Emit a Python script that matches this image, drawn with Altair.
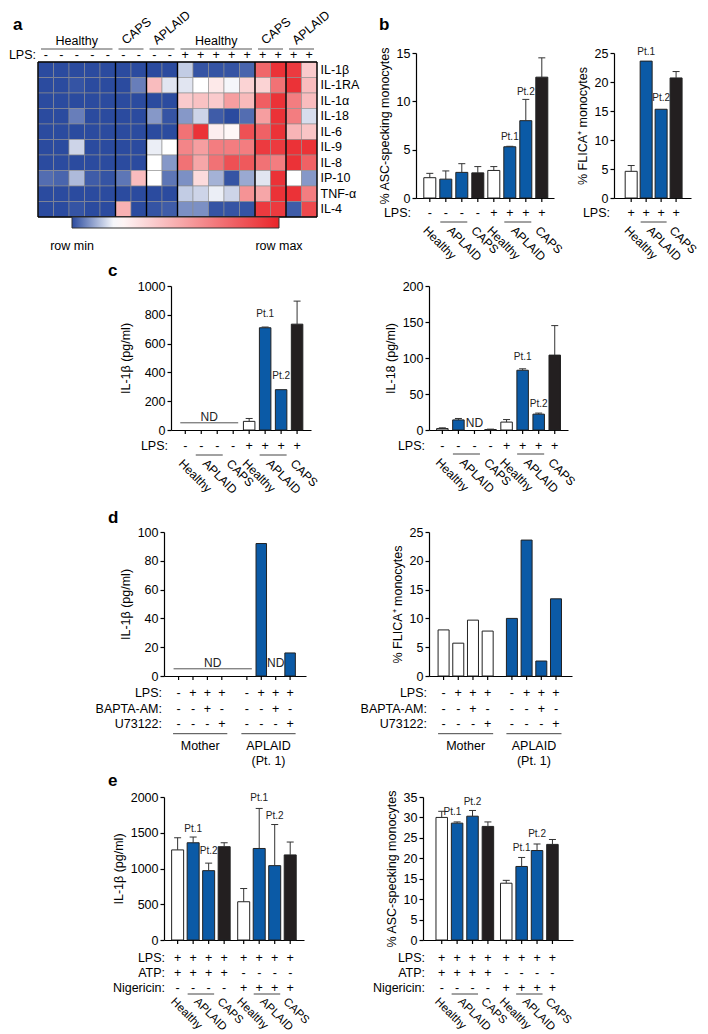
import altair as alt
import pandas as pd

FONT = "Liberation Sans"
FS = 12.5
BLUE = "#0b5aa6"
DARK = "#231f20"
HM_BLUE = "#2b4b9f"
HM_RED = "#ea2429"
FILLS = {"Healthy": "#ffffff", "Mother": "#ffffff", "APLAID": BLUE, "CAPS": DARK}

# ---------------- a: heatmap ----------------
hm_rows = ["IL-1β", "IL-1RA", "IL-1α", "IL-18", "IL-6", "IL-9", "IL-8", "IP-10", "TNF-α", "IL-4"]
hm_groups = ["Healthy", "CAPS", "APLAID", "Healthy", "CAPS", "APLAID"]
hm_group_sizes = [5, 2, 2, 5, 2, 2]
hm_group_lps = ["-", "-", "-", "+", "+", "+"]
hm_mid = 0.21  # position of white on the row-normalised scale
hm_values = [
    [0, 0, 0, 0, 0, 0, 0, 0, 0, 0.15, 0.01, 0.01, 0.01, 0.03, 0.76, 0.95, 0.92, 0.40],
    [0, 0, 0.01, 0, 0, 0, 0.06, 0.45, 0.18, 0.18, 0.21, 0.29, 0.20, 0.37, 0.37, 0.72, 0.95, 0.45],
    [0, 0, 0, 0, 0, 0, 0, 0, 0, 0.40, 0.43, 0.40, 0.56, 0.46, 0.79, 0.95, 0.68, 0.45],
    [0, 0, 0.06, 0, 0, 0, 0, 0.09, 0.01, 0.09, 0.16, 0.02, 0, 0.04, 0.56, 0.95, 0.68, 0.17],
    [0, 0, 0, 0, 0, 0, 0, 0, 0, 0.72, 0.95, 0.27, 0.24, 0.84, 0.78, 0.95, 0.48, 0.42],
    [0, 0, 0.16, 0, 0, 0, 0, 0.19, 0.21, 0.65, 0.56, 0.68, 0.68, 0.68, 0.92, 0.92, 0.95, 0.95],
    [0, 0, 0, 0, 0, 0, 0, 0.21, 0.09, 0.72, 0.53, 0.72, 0.84, 0.81, 0.72, 0.68, 0.95, 0.78],
    [0.04, 0.03, 0.13, 0.02, 0.01, 0.05, 0.45, 0.21, 0.05, 0.08, 0.34, 0.12, 0.01, 0.11, 0.18, 0.95, 0.21, 0.09],
    [0, 0, 0, 0, 0, 0, 0, 0, 0, 0.15, 0.16, 0.19, 0.16, 0.60, 0.53, 0.95, 0.95, 0.68],
    [0, 0, 0.01, 0, 0, 0.49, 0, 0.01, 0.02, 0.08, 0.08, 0.01, 0.01, 0.01, 0.92, 0.92, 0.02, 0.87],
]
hm_legend_labels = ["row min", "row max"]

# ---------------- b ----------------
b_kind = ["Healthy", "APLAID", "APLAID", "CAPS", "Healthy", "APLAID", "APLAID", "CAPS"]
b_lps = ["-", "-", "-", "-", "+", "+", "+", "+"]
b1_vals = [2.1, 1.95, 2.65, 2.6, 2.85, 5.3, 8.0, 12.5]
b1_errs = [2.55, 2.8, 3.55, 3.25, 3.25, 5.35, 10.2, 14.5]
b1_ticks = [0, 5, 10, 15]
b1_pts = [("Pt.1", 5, 6.3), ("Pt.2", 6, 11.0)]

b2_kind = ["Healthy", "APLAID", "APLAID", "CAPS"]
b2_lps = ["+", "+", "+", "+"]
b2_vals = [4.6, 23.6, 15.3, 20.7]
b2_errs = [5.6, None, None, 21.8]
b2_ticks = [0, 5, 10, 15, 20, 25]
b2_pts = [("Pt.1", 1, 25.2), ("Pt.2", 2, 17.2)]

# ---------------- c ----------------
c1_vals = [None, None, None, None, 60, 710, 280, 735]
c1_errs = [None, None, None, None, 80, 715, None, 895]
c1_ticks = [0, 200, 400, 600, 800, 1000]
c1_pts = [("Pt.1", 5, 805), ("Pt.2", 6, 373)]
c2_vals = [2, 14, None, 0.6, 11, 83, 22, 104]
c2_errs = [3, 16, None, 1.2, 14.5, 85, 23.5, 145]
c2_ticks = [0, 50, 100, 150, 200]
c2_pts = [("Pt.1", 5, 101.7), ("Pt.2", 6, 36.3)]

# ---------------- d ----------------
d_kind = ["Mother"] * 4 + ["APLAID"] * 4
d_group_text = ["Mother", "APLAID\n(Pt. 1)"]
d_lps = ["-", "+", "+", "+", "-", "+", "+", "+"]
d_bapta = ["-", "-", "+", "-", "-", "-", "+", "-"]
d_u73 = ["-", "-", "-", "+", "-", "-", "-", "+"]
d1_vals = [None, None, None, None, None, 92, None, 16]
d1_ticks = [0, 20, 40, 60, 80, 100]
d2_vals = [8.0, 5.7, 9.7, 7.8, 10.0, 23.6, 2.6, 13.4]
d2_ticks = [0, 5, 10, 15, 20, 25]

# ---------------- e ----------------
e_kind = b_kind
e_lps = ["+"] * 8
e_atp = ["+"] * 4 + ["-"] * 4
e_nig = ["-"] * 4 + ["+"] * 4
e1_vals = [1260, 1360, 970, 1305, 535, 1280, 1040, 1190]
e1_errs = [1430, 1440, 1075, 1360, 720, 1840, 1615, 1370]
e1_ticks = [0, 500, 1000, 1500, 2000]
e1_pts = [("Pt.1", 1, 1557), ("Pt.2", 2, 1245), ("Pt.1", 5, 1990), ("Pt.2", 6, 1734)]
e2_vals = [30.0, 28.6, 30.3, 27.8, 13.9, 18.0, 21.9, 23.4]
e2_errs = [31.5, 28.9, 31.7, 28.9, 14.6, 20.2, 23.5, 24.6]
e2_ticks = [0, 5, 10, 15, 20, 25, 30, 35]
e2_pts = [("Pt.1", 1, 31.3), ("Pt.2", 2, 33.8), ("Pt.1", 5, 22.5), ("Pt.2", 6, 25.9)]


def spacer(w=1, h=1):
    return alt.Chart(pd.DataFrame({"z": [0]})).mark_point(opacity=0, size=1).properties(width=w, height=h)


def text_at(t, x, y, **mk):
    return alt.Chart(pd.DataFrame({"t": [t]})).mark_text(**mk).encode(
        x=alt.value(x), y=alt.value(y), text="t:N")


def letter_layer(ch, x, y):
    return text_at(ch, x, y, fontSize=17, fontWeight="bold", align="left", baseline="alphabetic")


def runs(kinds):
    out, start = [], 0
    for i in range(1, len(kinds) + 1):
        if i == len(kinds) or kinds[i] != kinds[start]:
            out.append((kinds[start], start, i - 1))
            start = i
    return out


# ---------------- heatmap chart ----------------
HW, HH = 279, 155
GRAD_X, GRAD_LEN = 34, 207
n_cols = sum(hm_group_sizes)
col_lps = [s for s, k in zip(hm_group_lps, hm_group_sizes) for _ in range(k)]
g_start = [sum(hm_group_sizes[:i]) for i in range(len(hm_group_sizes))]
g_end = [s + k - 1 for s, k in zip(g_start, hm_group_sizes)]
cells = pd.DataFrame([{"row": r, "col": c, "v": hm_values[i][c]}
                      for i, r in enumerate(hm_rows) for c in range(n_cols)])
xsc = alt.Scale(type="band", paddingInner=0, paddingOuter=0)
ysc = alt.Scale(type="band", paddingInner=0, paddingOuter=0)
hm_yax = alt.Axis(orient="right", ticks=False, domain=False, labelPadding=3,
                  labelFontSize=FS, labelColor="black", title=None)


def HY(**kw):
    return alt.Y("row:N", sort=hm_rows, scale=ysc, axis=hm_yax, **kw)


def HX(f="col:O", **kw):
    return alt.X(f, scale=xsc, axis=None, **kw)


heat = alt.Chart(cells).mark_rect(stroke="#8f8f8f", strokeWidth=0.6).encode(
    x=HX(), y=HY(),
    color=alt.Color("v:Q", scale=alt.Scale(domain=[0, hm_mid, 1], range=[HM_BLUE, "#ffffff", HM_RED],
                                           interpolate="rgb"),
                    legend=alt.Legend(orient="none", legendX=GRAD_X, legendY=HH + 9, direction="horizontal",
                                      gradientLength=GRAD_LEN, gradientThickness=11, title=None,
                                      values=[0, 1], labelOpacity=0, labelFontSize=1,
                                      gradientStrokeColor="#333", gradientStrokeWidth=1)),
)
leg_lo = text_at(hm_legend_labels[0], GRAD_X, HH + 23, fontSize=FS, baseline="top", align="center")
leg_hi = text_at(hm_legend_labels[1], GRAD_X + GRAD_LEN, HH + 23, fontSize=FS, baseline="top", align="center")
sep_l = alt.Chart(pd.DataFrame({"col": g_start})).mark_rule(color="black", strokeWidth=1.4).encode(
    x=HX(bandPosition=0))
sep_r = alt.Chart(pd.DataFrame({"col": [n_cols - 1]})).mark_rule(color="black", strokeWidth=1.4).encode(
    x=HX(bandPosition=1))
sep_t = alt.Chart(pd.DataFrame({"row": [hm_rows[0]]})).mark_rule(color="black", strokeWidth=1.4).encode(
    y=HY(bandPosition=0))
sep_b = alt.Chart(pd.DataFrame({"row": [hm_rows[-1]]})).mark_rule(color="black", strokeWidth=1.4).encode(
    y=HY(bandPosition=1))
lps_txt = alt.Chart(pd.DataFrame({"col": list(range(n_cols)), "s": col_lps})).mark_text(
    fontSize=FS, baseline="middle").encode(x=HX(), y=alt.value(-7), text="s:N")
lps_lab = text_at("LPS:", -2, -7, fontSize=FS, align="right", baseline="middle")
gl_h, gl_r = [], []
for g, st, k in zip(hm_groups, g_start, hm_group_sizes):
    if k % 2:
        gl_h.append({"col": st + k // 2, "t": g})
    else:
        gl_r.append({"col": st + k // 2 - 1, "t": g})
gh = alt.Chart(pd.DataFrame(gl_h)).mark_text(fontSize=FS, baseline="alphabetic").encode(
    x=HX(), y=alt.value(-17), text="t:N")
gr = alt.Chart(pd.DataFrame(gl_r)).mark_text(fontSize=FS, baseline="alphabetic", align="left",
                                             angle=320, xOffset=-5).encode(
    x=HX(bandPosition=1), y=alt.value(-17), text="t:N")
gul = alt.Chart(pd.DataFrame({"s": g_start, "e": g_end})).mark_rule(
    color="#555", strokeWidth=1, xOffset=3, x2Offset=-3).encode(
    x=HX("s:O", bandPosition=0), x2=alt.X2("e", bandPosition=1), y=alt.value(-13))

heatmap = alt.layer(heat, sep_l, sep_r, sep_t, sep_b, lps_txt, lps_lab, gh, gr, gul, leg_lo, leg_hi,
                    letter_layer("a", -25, -32)).properties(width=HW, height=HH)


# ---------------- bar panels ----------------
def bar_panel(vals, errs, kinds, W, H, first, step, gap, bar, ymax, yticks, ytitle,
              rows, row_dy, row_lx, line_dy, cat_dy, groups_text=None, cat_fs=12,
              pts=(), pt_shift=None, nd_text=(), nd_lines=(), letter=None):
    n = len(vals)
    pos = [i + (gap if i >= n // 2 else 0) for i in range(n)]
    lo = -first / step
    xs = alt.Scale(domain=[lo, lo + W / step], nice=False, zero=False)
    ys = alt.Scale(domain=[0, ymax], nice=False, zero=True)
    xax = alt.Axis(labels=False, ticks=False, grid=False, title=None,
                   domainColor="black", domainWidth=1.2)
    yax = alt.Axis(values=yticks, format="d", title=ytitle, grid=False, domainColor="black",
                   domainWidth=1.2, tickColor="black", tickWidth=1.2, tickSize=4, labelFontSize=FS,
                   titleFontSize=FS, titleFontWeight="normal", labelColor="black", titleColor="black",
                   labelPadding=2, titlePadding=5)

    def X(f="p"):
        return alt.X(f, type="quantitative", scale=xs, axis=xax)

    def Y(f="y"):
        return alt.Y(f, type="quantitative", scale=ys, axis=yax)

    layers = []
    dfb = pd.DataFrame([{"p": pos[i], "y": v, "fill": FILLS[kinds[i]]}
                        for i, v in enumerate(vals) if v is not None])
    layers.append(alt.Chart(dfb).mark_bar(size=bar, orient="vertical", stroke="#222", strokeWidth=1).encode(
        x=X(), y=Y(), fill=alt.Fill("fill:N", scale=None)))
    if errs is not None:
        dfe = pd.DataFrame([{"p": pos[i], "y": vals[i], "e": e} for i, e in enumerate(errs) if e is not None])
        layers.append(alt.Chart(dfe).mark_rule(color="#333", strokeWidth=1).encode(
            x=X(), y=Y(), y2=alt.Y2("e")))
        layers.append(alt.Chart(dfe).mark_rule(color="#333", strokeWidth=1, xOffset=-3.5, x2Offset=3.5).encode(
            x=X(), x2=alt.X2("p"), y=Y("e")))
    layers.append(alt.Chart(pd.DataFrame({"p": pos})).mark_rule(color="black", strokeWidth=1.2).encode(
        x=X(), y=alt.value(H), y2=alt.value(H + 4)))
    for (label, syms), dy in zip(rows, row_dy):
        layers.append(alt.Chart(pd.DataFrame({"p": pos, "s": syms})).mark_text(
            fontSize=FS, baseline="middle").encode(x=X(), y=alt.value(H + dy), text="s:N"))
        layers.append(text_at(label, row_lx, H + dy, fontSize=FS, baseline="middle", align="right"))
    rr = runs(kinds)
    ul = [{"p": pos[s], "b": pos[e]} for k, s, e in rr if e > s]
    layers.append(alt.Chart(pd.DataFrame(ul)).mark_rule(
        color="#444", strokeWidth=1, xOffset=-5.5, x2Offset=5.5).encode(
        x=X(), x2=alt.X2("b"), y=alt.value(H + line_dy)))
    if groups_text is None:
        cl = [{"p": (pos[s] + pos[e]) / 2, "t": k} for k, s, e in rr]
        layers.append(alt.Chart(pd.DataFrame(cl)).mark_text(
            fontSize=cat_fs, angle=45, align="left", baseline="top", xOffset=-1).encode(
            x=X(), y=alt.value(H + cat_dy), text="t:N"))
    else:
        cl = [{"p": (pos[s] + pos[e]) / 2, "t": t} for (k, s, e), t in zip(rr, groups_text)]
        layers.append(alt.Chart(pd.DataFrame(cl)).mark_text(
            fontSize=FS, align="center", baseline="top", lineBreak="\n", lineHeight=14.5).encode(
            x=X(), y=alt.value(H + cat_dy), text="t:N"))
    if pts:
        sh = pt_shift or [0] * len(pts)
        dfp = pd.DataFrame([{"p": pos[b] + s, "y": y, "t": t} for (t, b, y), s in zip(pts, sh)])
        layers.append(alt.Chart(dfp).mark_text(fontSize=10, color="#222", baseline="middle").encode(
            x=X(), y=Y(), text="t:N"))
    if nd_lines:
        dfl = pd.DataFrame([{"p": pos[a], "b": pos[b], "y": y} for a, b, y in nd_lines])
        layers.append(alt.Chart(dfl).mark_rule(color="#555", strokeWidth=1, xOffset=-5, x2Offset=5).encode(
            x=X(), x2=alt.X2("b"), y=Y()))
    if nd_text:
        dfn = pd.DataFrame([{"p": (pos[a] + pos[b]) / 2, "y": y, "t": "ND"} for a, b, y in nd_text])
        layers.append(alt.Chart(dfn).mark_text(fontSize=12, color="#222", baseline="middle").encode(
            x=X(), y=Y(), text="t:N"))
    if letter:
        layers.append(letter_layer(*letter))
    return alt.layer(*layers).properties(width=W, height=H)


b_left = bar_panel(b1_vals, b1_errs, b_kind, 138, 145, 9.5, 17.25, 0, 12, 15, b1_ticks,
                   "% ASC-specking monocytes", [("LPS:", b_lps)], [15], -5, 24, 27,
                   pts=b1_pts, letter=("b", -37, -23))
b_right = bar_panel(b2_vals, b2_errs, b2_kind, 77, 145, 14, 17.2, 0, 12, 25, b2_ticks,
                    "% FLICA⁺ monocytes", [("LPS:", b2_lps)], [15], -4, 24, 27, pts=b2_pts)
c_left = bar_panel(c1_vals, c1_errs, b_kind, 140, 144, 10, 17.2, 0, 11.5, 1000, c1_ticks,
                   "IL-1β (pg/ml)", [("LPS:", b_lps)], [16], -3, 25, 28, pts=c1_pts,
                   nd_lines=[(0, 3, 50)], nd_text=[(0, 3, 90)], letter=("c", -63, -10))
c_right = bar_panel(c2_vals, c2_errs, b_kind, 139, 144, 9, 17.3, 0, 11.5, 200, c2_ticks,
                    "IL-18 (pg/ml)", [("LPS:", b_lps)], [16], -4, 24, 27, pts=c2_pts,
                    nd_text=[(2, 2, 10)])
d_rows = [("LPS:", d_lps), ("BAPTA-AM:", d_bapta), ("U73122:", d_u73)]
d_left = bar_panel(d1_vals, None, d_kind, 142, 144, 10.3, 15.5, 0.74, 10.5, 100, d1_ticks,
                   "IL-1β (pg/ml)", d_rows, [17, 32.5, 48], -2, 57.7, 64, groups_text=d_group_text,
                   nd_lines=[(0, 4, 5)], nd_text=[(0, 4, 9.2), (6, 6, 9.2)], letter=("d", -56, -9))
d_right = bar_panel(d2_vals, None, d_kind, 143, 144, 10.3, 15.8, 0.65, 11, 25, d2_ticks,
                    "% FLICA⁺ monocytes", d_rows, [17, 32.5, 48], -2, 57.7, 64, groups_text=d_group_text)
e_rows = [("LPS:", e_lps), ("ATP:", e_atp), ("Nigericin:", e_nig)]
e_left = bar_panel(e1_vals, e1_errs, e_kind, 140, 143, 9.3, 16.7, 0.26, 12, 2000, e1_ticks,
                   "IL-1β (pg/ml)", e_rows, [18, 33, 48], 1, 54, 56, cat_fs=11.5, pts=e1_pts,
                   letter=("e", -56, -11))
e_right = bar_panel(e2_vals, e2_errs, e_kind, 150, 143, 14.7, 16.5, 0.19, 11.5, 35, e2_ticks,
                    "% ASC-specking monocytes", e_rows, [18, 33, 48], 2, 54, 56, cat_fs=11.5,
                    pts=e2_pts, pt_shift=[-0.3, 0, 0, 0])

row_b = alt.hconcat(spacer(378), b_left, spacer(60), b_right, spacing=0, bounds="flush")
row_c = alt.hconcat(spacer(133), c_left, spacer(118), c_right, spacing=0, bounds="flush")
row_d = alt.hconcat(spacer(126), d_left, spacer(123), d_right, spacing=0, bounds="flush")
row_e = alt.hconcat(spacer(126), e_left, spacer(119), e_right, spacing=0, bounds="flush")

chart = alt.vconcat(
    row_b, spacer(h=9), heatmap, spacer(h=69), row_c, spacer(h=246), row_d, spacer(h=265), row_e,
    spacing=0, bounds="flush", padding=0,
).configure(font=FONT).configure_view(stroke=None)

chart.save("out.html", embed_options={"renderer": "svg", "actions": False})
